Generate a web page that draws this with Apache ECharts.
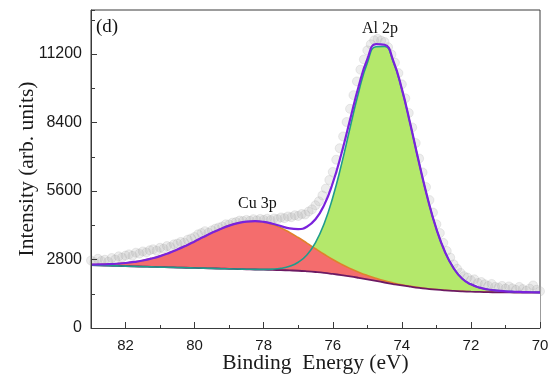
<!DOCTYPE html>
<html>
<head>
<meta charset="utf-8">
<script src="https://cdn.jsdelivr.net/npm/echarts@6/dist/echarts.min.js"></script>
<style>
html,body{margin:0;padding:0;background:#fff;}
#chart{width:553px;height:378px;}
</style>
</head>
<body>
<div id="chart"></div>
<script>
// Binding energy grid of the fitted curves (eV)
var fitEnergy = [83,82.75,82.5,82.25,82,81.75,81.5,81.25,81,80.75,80.5,80.25,80,79.75,79.5,79.25,79,78.75,78.5,78.25,78,77.75,77.5,77.25,77,76.75,76.5,76.25,76,75.75,75.5,75.25,75,74.75,74.5,74.25,74,73.75,73.5,73.25,73,72.75,72.5,72.25,72,71.75,71.5,71.25,71,70.75,70.5,70.25,70];
// Shirley background
var background = [2570,2560,2550,2540,2530,2520,2510,2500,2490,2481,2472,2463,2455,2446,2437,2428,2420,2410,2400,2392,2385,2375,2365,2354,2340,2318,2290,2255,2210,2162,2110,2052,1990,1925,1860,1798,1740,1688,1640,1600,1565,1537,1515,1498,1485,1474,1465,1459,1455,1452,1450,1449,1448];
// Cu 3p component (above background)
var cu3p = [24,38,58,87,126,180,250,340,449,581,733,902,1083,1270,1452,1621,1765,1876,1946,1970,1941,1856,1723,1553,1358,1153,950,760,590,445,325,231,159,107,69,44,27,16,9,5,3,1,0,0,0,0,0,0,0,0,0,0,0];
// Al 2p component (above background)
var al2p = [0,0,0,0,0,0,0,0,0,0,0,0,0,0,0,0,0,0,2,5,13,32,75,167,347,670,1204,2009,3128,4516,6073,7599,8844,9573,9649,9089,8008,6605,5094,3679,2484,1569,928,514,300,175,110,70,45,30,20,12,8];

// Measured spectrum
var dataEnergy = [83,82.9,82.8,82.7,82.6,82.5,82.4,82.3,82.2,82.1,82,81.9,81.8,81.7,81.6,81.5,81.4,81.3,81.2,81.1,81,80.9,80.8,80.7,80.6,80.5,80.4,80.3,80.2,80.1,80,79.9,79.8,79.7,79.6,79.5,79.4,79.3,79.2,79.1,79,78.9,78.8,78.7,78.6,78.5,78.4,78.3,78.2,78.1,78,77.9,77.8,77.7,77.6,77.5,77.4,77.3,77.2,77.1,77,76.9,76.8,76.7,76.6,76.5,76.4,76.3,76.2,76.1,76,75.9,75.8,75.7,75.6,75.5,75.4,75.3,75.2,75.1,75,74.9,74.8,74.7,74.6,74.5,74.4,74.3,74.2,74.1,74,73.9,73.8,73.7,73.6,73.5,73.4,73.3,73.2,73.1,73,72.9,72.8,72.7,72.6,72.5,72.4,72.3,72.2,72.1,72,71.9,71.8,71.7,71.6,71.5,71.4,71.3,71.2,71.1,71,70.9,70.8,70.7,70.6,70.5,70.4,70.3,70.2,70.1,70];
var dataIntensity = [2760,2690,2830,2740,2790,2710,2860,2800,2930,2880,2960,3010,2950,3080,3040,3130,3090,3180,3220,3160,3280,3240,3350,3310,3420,3450,3520,3490,3610,3660,3720,3830,3880,3960,3890,3990,4060,4110,4150,4240,4230,4310,4330,4390,4370,4420,4380,4450,4400,4460,4420,4470,4410,4480,4450,4520,4490,4560,4530,4610,4580,4660,4640,4760,4850,5020,5180,5420,5700,6050,6380,6880,7350,7830,8420,8960,9520,10080,10560,10980,11350,11600,11760,11820,11750,11690,11480,11180,10850,10420,9960,9390,8790,8200,7560,6930,6360,5760,5230,4720,4240,3880,3480,3150,2880,2600,2420,2250,2120,2060,1950,1990,1840,1880,1790,1720,1800,1680,1650,1720,1610,1700,1620,1560,1680,1590,1520,1610,1740,1560,1500];

// Axis ticks
var xMin = 70, xMax = 83, xStep = 2;
var yMin = 0, yMax = 13000, yStep = 2800;

function pairs(xs, ys) { return xs.map(function (x, i) { return [x, ys[i]]; }); }
// component curves drawn on top of the background
var alTop = fitEnergy.map(function (x, i) { return background[i] + al2p[i]; });
var cuTop = fitEnergy.map(function (x, i) { return background[i] + cu3p[i]; });
var envelope = fitEnergy.map(function (x, i) { return background[i] + cu3p[i] + al2p[i]; });

var chart = echarts.init(document.getElementById('chart'), null, {renderer: 'canvas'});
var sans = 'Liberation Sans, Arial, sans-serif';
var serif = 'Liberation Serif, Times New Roman, serif';
var axisColor = '#3a3a3a';
var plain = function (v) { return String(v); };

chart.setOption({
  animation: false,
  backgroundColor: '#fff',
  grid: {left: 91, right: 13, top: 10, bottom: 50, containLabel: false, outerBoundsMode: 'none',
    show: true, borderColor: axisColor, borderWidth: 1, backgroundColor: 'transparent'},
  xAxis: [{
    type: 'value', min: xMin, max: xMax, interval: xStep, inverse: true, position: 'bottom', z: 10,
    axisLine: {show: true, onZero: false, lineStyle: {color: axisColor, width: 1}},
    axisTick: {show: true, inside: true, length: 6, lineStyle: {color: axisColor}},
    axisLabel: {showMaxLabel: false, color: '#1a1a1a', fontSize: 15, fontFamily: sans, margin: 10, formatter: plain},
    splitLine: {show: false},
    name: 'Binding  Energy (eV)', nameLocation: 'middle', nameGap: 24, nameMoveOverlap: false,
    nameTextStyle: {fontFamily: serif, fontSize: 21.5, color: '#1a1a1a'}
  }, {
    type: 'value', min: xMin, max: xMax, interval: 1, inverse: true, position: 'bottom', z: 10,
    axisLine: {show: false}, axisTick: {show: true, inside: true, length: 3, lineStyle: {color: axisColor}},
    axisLabel: {show: false}, splitLine: {show: false}
  }],
  yAxis: [{
    type: 'value', min: yMin, max: yMax, interval: yStep, position: 'left', z: 10,
    axisLine: {show: true, onZero: false, lineStyle: {color: axisColor, width: 1}},
    axisTick: {show: true, inside: true, length: 6, lineStyle: {color: axisColor}},
    axisLabel: {showMaxLabel: false, color: '#1a1a1a', fontSize: 16, fontFamily: sans, margin: 9, formatter: plain},
    splitLine: {show: false},
    name: 'Intensity (arb. units)', nameLocation: 'middle', nameGap: 53, nameMoveOverlap: false,
    nameTextStyle: {fontFamily: serif, fontSize: 21.5, color: '#1a1a1a'}
  }, {
    type: 'value', min: yMin, max: yMax, interval: 1400, position: 'left', z: 10,
    axisLine: {show: false}, axisTick: {show: true, inside: true, length: 4, lineStyle: {color: axisColor}},
    axisLabel: {show: false}, splitLine: {show: false}
  }],
  series: [
    {
      name: 'data', type: 'scatter', z: 1, symbol: 'circle', symbolSize: 9,
      itemStyle: {color: 'rgba(175,175,175,0.28)', borderColor: 'rgba(160,160,160,0.25)', borderWidth: 1},
      data: pairs(dataEnergy, dataIntensity)
    },
    {
      name: 'Al 2p fill', type: 'line', z: 2, smooth: true, symbol: 'none',
      lineStyle: {width: 0, opacity: 0}, areaStyle: {color: '#b4e86b', opacity: 1, origin: 'start'},
      data: pairs(fitEnergy, alTop)
    },
    {
      name: 'Cu 3p', type: 'line', z: 3, smooth: true, symbol: 'none',
      lineStyle: {color: '#e0822c', width: 1.6}, areaStyle: {color: '#f46d6d', opacity: 1, origin: 'start'},
      data: pairs(fitEnergy, cuTop)
    },
    {
      name: 'background', type: 'line', z: 4, smooth: true, symbol: 'none',
      lineStyle: {color: '#6c1a63', width: 1.8}, areaStyle: {color: '#ffffff', opacity: 1, origin: 'start'},
      data: pairs(fitEnergy, background)
    },
    {
      name: 'Al 2p', type: 'line', z: 4, smooth: true, symbol: 'none',
      lineStyle: {color: '#1f9c8c', width: 1.6},
      data: pairs(fitEnergy, alTop)
    },
    {
      name: 'envelope', type: 'line', z: 5, smooth: true, symbol: 'none',
      lineStyle: {color: '#7a22dc', width: 2.2}, data: pairs(fitEnergy, envelope)
    }
  ],
  graphic: [
    {type: 'text', left: 96, top: 18, z: 20, style: {text: '(d)', font: '19px ' + serif, fill: '#111'}},
    {type: 'text', left: 362, top: 21, z: 20, style: {text: 'Al 2p', font: '16px ' + serif, fill: '#111'}},
    {type: 'text', left: 238, top: 196, z: 20, style: {text: 'Cu 3p', font: '16px ' + serif, fill: '#111'}}
  ]
});
</script>
</body>
</html>
